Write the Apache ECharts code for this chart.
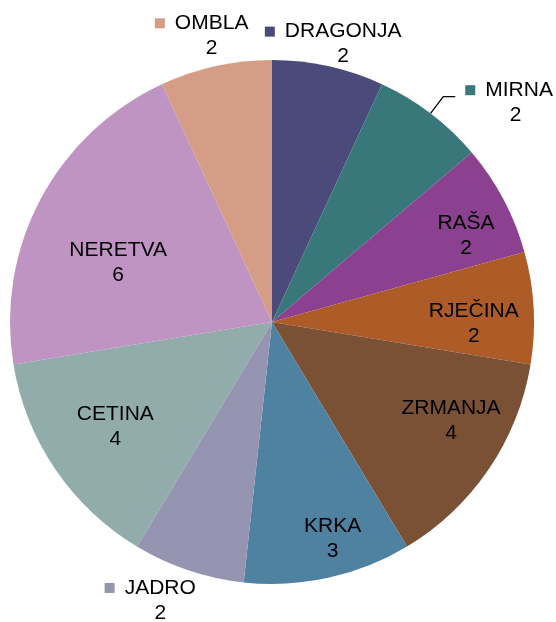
<!DOCTYPE html>
<html>
<head>
<meta charset="utf-8">
<script src="https://cdn.jsdelivr.net/npm/echarts@6/dist/echarts.min.js"></script>
<style>
  html, body { margin: 0; padding: 0; background: #fff; }
  #pie { width: 556px; height: 622px; }
</style>
</head>
<body>
<div id="pie"></div>
<script>
// rivers, clockwise from 12 o'clock
var rivers = ['DRAGONJA', 'MIRNA', 'RAŠA', 'RJEČINA', 'ZRMANJA', 'KRKA', 'JADRO', 'CETINA', 'NERETVA', 'OMBLA'];
var counts = [2, 2, 2, 2, 4, 3, 2, 4, 6, 2];
var colors = ['#4B4B7B', '#38777A', '#8B4190', '#AD5B27', '#7B5136', '#4F81A1', '#9595B1', '#92ACAC', '#BF93C2', '#D59C86'];

// label placement: [radius factor, angle shift in deg]; null = outside with leader line
var labelPos = [[1.086, 0], null, [0.81, 4], [0.77, 3.7], [0.78, -5.3], [0.86, -3.2], [1.16, 5], [0.72, 0.3], [0.63, -6.7], [1.125, -1.4]];
var keyed = [true, true, false, false, false, false, true, false, false, true];

var CX = 272, CY = 322, R = 262;
var total = counts.reduce(function (a, b) { return a + b; }, 0);
var cum = [];
counts.reduce(function (a, b, i) { cum[i] = a; return a + b; }, 0);

var rich = { g: { width: 10, align: 'left' }, p: { width: 20, align: 'left' },
  n: { fontSize: 21, lineHeight: 25, align: 'left', color: '#000' },
  v: { fontSize: 21, lineHeight: 25, align: 'center', color: '#000' } };
colors.forEach(function (c, i) {
  rich['k' + i] = { width: 10, height: 10, backgroundColor: c, align: 'left' };
});

var data = rivers.map(function (name, i) {
  var item = { name: name, value: counts[i], itemStyle: { color: colors[i] } };
  if (!labelPos[i]) {
    item.label = { position: 'outside', distanceToLabelLine: 10, overflow: 'none', padding: [12, 0, 0, 0] };
    item.labelLine = { show: true, length: 21, length2: 12, lineStyle: { color: '#000', width: 1.3 } };
  }
  return item;
});

var myChart = echarts.init(document.getElementById('pie'));
myChart.setOption({
  animation: false,
  backgroundColor: '#fff',
  series: [{
    type: 'pie',
    center: [CX, CY],
    radius: R,
    startAngle: 90,
    clockwise: true,
    emphasis: { disabled: true },
    itemStyle: { borderWidth: 0 },
    label: {
      show: true,
      position: 'inside',
      color: '#000',
      fontFamily: 'Liberation Sans, Arial, sans-serif',
      fontSize: 21,
      lineHeight: 25,
      align: 'center',
      textBorderWidth: 0,
      rich: rich,
      formatter: function (p) {
        var i = p.dataIndex;
        if (keyed[i]) {
          return '{k' + i + '|}{g|}{n|' + p.name + '}\n{p|}{v|' + p.value + '}';
        }
        return p.name + '\n' + p.value;
      }
    },
    labelLine: { show: false },
    labelLayout: function (p) {
      var i = p.dataIndex;
      if (!labelPos[i]) return {};
      var mid = (cum[i] + counts[i] / 2) / total * 360 + labelPos[i][1];
      var rad = mid * Math.PI / 180;
      var d = labelPos[i][0] * R;
      return { x: CX + d * Math.sin(rad), y: CY - d * Math.cos(rad), align: 'center', verticalAlign: 'middle' };
    },
    data: data
  }]
});
</script>
</body>
</html>
